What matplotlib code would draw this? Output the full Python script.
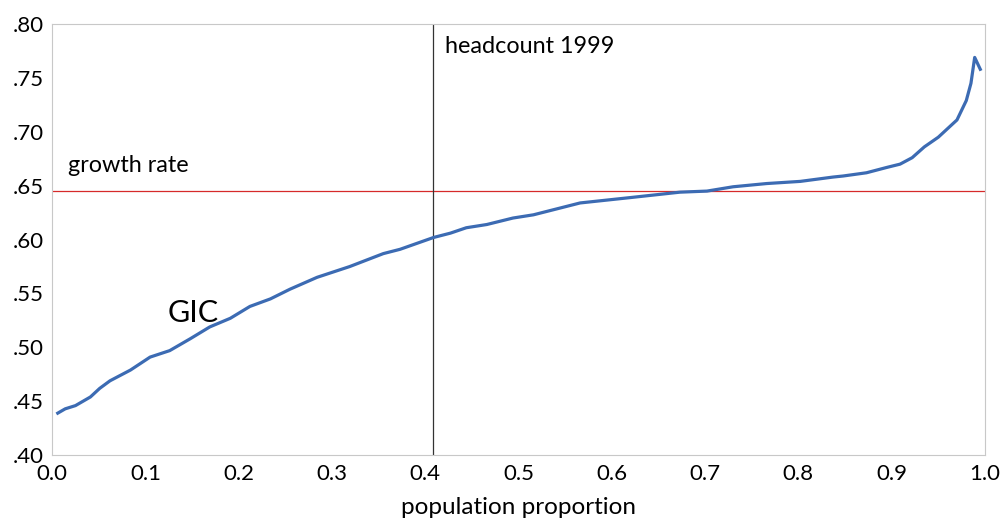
import matplotlib.pyplot as plt
from matplotlib.ticker import FuncFormatter

plt.rcParams['font.family'] = ['Lato', 'DejaVu Sans']

# growth incidence curve
pop = [0.006, 0.014, 0.025, 0.041, 0.051, 0.062, 0.084, 0.105, 0.126, 0.148,
       0.169, 0.191, 0.212, 0.234, 0.255, 0.284, 0.319, 0.355, 0.373, 0.409,
       0.427, 0.444, 0.466, 0.494, 0.516, 0.566, 0.620, 0.673, 0.702, 0.730,
       0.766, 0.802, 0.837, 0.848, 0.873, 0.895, 0.909, 0.922, 0.935, 0.950,
       0.960, 0.970, 0.980, 0.985, 0.989, 0.995]
gic = [0.439, 0.443, 0.446, 0.454, 0.462, 0.469, 0.479, 0.491, 0.497, 0.508,
       0.519, 0.527, 0.538, 0.545, 0.554, 0.565, 0.575, 0.587, 0.591, 0.602,
       0.606, 0.611, 0.614, 0.620, 0.623, 0.634, 0.639, 0.644, 0.645, 0.649,
       0.652, 0.654, 0.658, 0.659, 0.662, 0.667, 0.670, 0.676, 0.686, 0.695,
       0.703, 0.711, 0.729, 0.745, 0.769, 0.758]

growth_rate = 0.645
headcount = 0.408

fig = plt.figure(figsize=(10.03, 5.22), dpi=100)
ax = fig.add_axes([0.052, 0.128, 0.930, 0.826])

ax.plot(pop, gic, color='#3C6BB3', linewidth=2.3, zorder=3)
ax.axhline(growth_rate, color='#D62A2A', linewidth=0.9, zorder=2)
ax.axvline(headcount, color='#333333', linewidth=0.9, zorder=2)

ax.text(0.017, 0.669, 'growth rate', fontsize=16.8, va='center')
ax.text(headcount + 0.013, 0.779, 'headcount 1999', fontsize=16.8, va='center')
ax.text(0.124, 0.532, 'GIC', fontsize=22, va='center')

ax.set_xlim(0, 1)
ax.set_ylim(0.40, 0.80)
ax.set_xticks([i / 10 for i in range(11)])
ax.set_yticks([0.40, 0.45, 0.50, 0.55, 0.60, 0.65, 0.70, 0.75, 0.80])
ax.yaxis.set_major_formatter(FuncFormatter(lambda v, p: ('%.2f' % v)[1:]))
ax.xaxis.set_major_formatter(FuncFormatter(lambda v, p: '%.1f' % v))
ax.tick_params(length=0, labelsize=16, pad=6)
ax.set_xlabel('population proportion', fontsize=17.5, labelpad=10)

for s in ax.spines.values():
    s.set_color('#C8C8C8')

fig.savefig('out.png', dpi=100)
